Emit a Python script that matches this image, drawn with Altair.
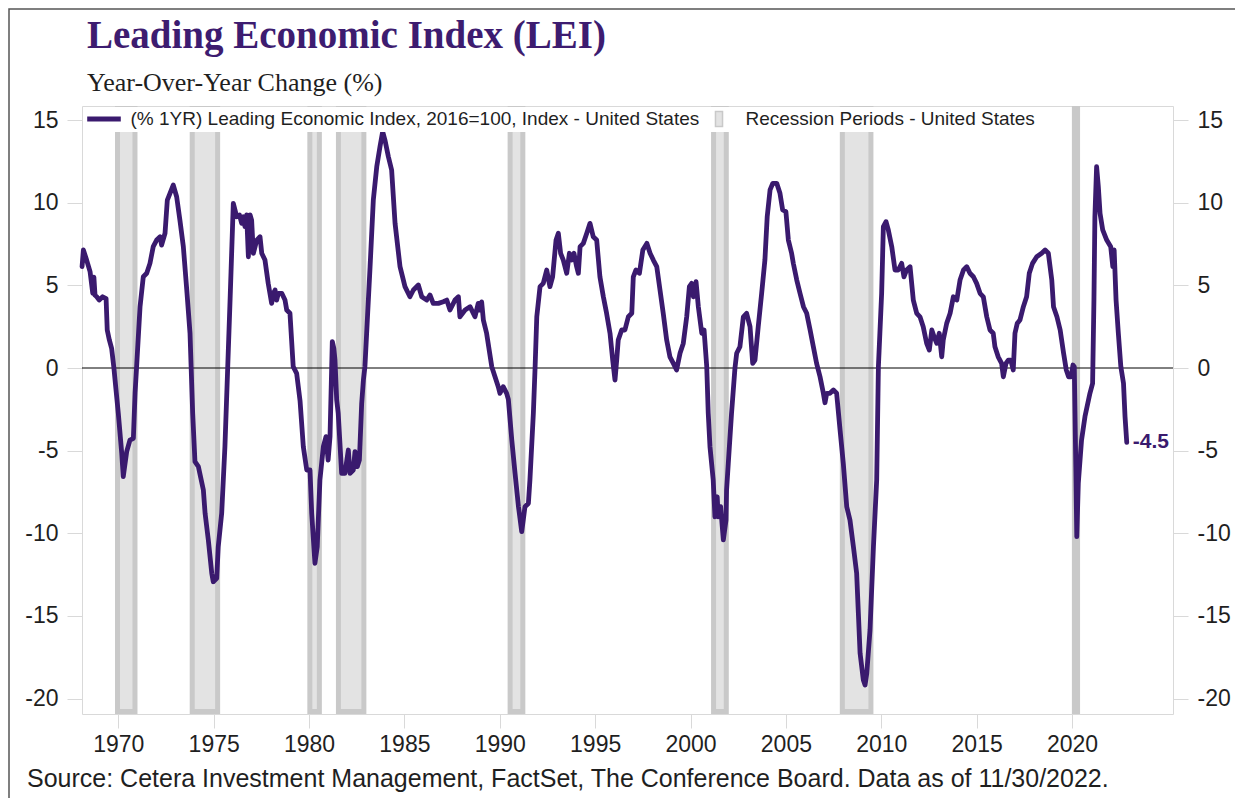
import altair as alt
import pandas as pd

TITLE = "Leading Economic Index (LEI)"
SUBTITLE = "Year-Over-Year Change (%)"
SOURCE = "Source: Cetera Investment Management, FactSet, The Conference Board. Data as of 11/30/2022."
SERIES_NAME = "(% 1YR) Leading Economic Index, 2016=100, Index - United States"
RECESSION_NAME = "Recession Periods - United States"

YEARS = [
    1968.10, 1968.17, 1968.34, 1968.52, 1968.66, 1968.72, 1968.78, 1968.87, 1969.00, 1969.18,
    1969.36, 1969.42, 1969.53, 1969.65, 1969.77, 1969.83, 1970.00, 1970.18, 1970.26, 1970.44,
    1970.61, 1970.79, 1970.88, 1970.96, 1971.14, 1971.31, 1971.49, 1971.66, 1971.83, 1972.01,
    1972.19, 1972.27, 1972.45, 1972.57, 1972.71, 1972.88, 1973.06, 1973.23, 1973.41, 1973.59,
    1973.76, 1973.82, 1973.90, 1974.02, 1974.20, 1974.46, 1974.55, 1974.72, 1974.90, 1974.98,
    1975.16, 1975.24, 1975.42, 1975.59, 1975.72, 1975.86, 1976.03, 1976.12, 1976.21, 1976.35,
    1976.47, 1976.56, 1976.64, 1976.73, 1976.82, 1976.91, 1976.99, 1977.08, 1977.26, 1977.43,
    1977.52, 1977.69, 1977.86, 1978.04, 1978.13, 1978.22, 1978.30, 1978.39, 1978.57, 1978.74,
    1978.83, 1979.00, 1979.17, 1979.35, 1979.53, 1979.70, 1979.88, 1980.05, 1980.14, 1980.31,
    1980.43, 1980.57, 1980.75, 1980.89, 1981.00, 1981.10, 1981.22, 1981.30, 1981.36, 1981.45,
    1981.53, 1981.71, 1981.88, 1982.06, 1982.15, 1982.32, 1982.41, 1982.53, 1982.64, 1982.76,
    1982.85, 1982.93, 1983.20, 1983.37, 1983.55, 1983.72, 1983.86, 1983.98, 1984.16, 1984.33,
    1984.51, 1984.77, 1985.03, 1985.29, 1985.47, 1985.73, 1985.91, 1986.17, 1986.34, 1986.51,
    1986.78, 1987.04, 1987.22, 1987.39, 1987.65, 1987.83, 1987.91, 1988.18, 1988.44, 1988.70,
    1988.87, 1988.96, 1989.05, 1989.14, 1989.31, 1989.58, 1989.75, 1989.92, 1990.01, 1990.18,
    1990.36, 1990.45, 1990.63, 1990.80, 1990.98, 1991.15, 1991.23, 1991.32, 1991.50, 1991.58,
    1991.76, 1991.85, 1991.94, 1992.11, 1992.28, 1992.46, 1992.63, 1992.77, 1992.95, 1993.07,
    1993.19, 1993.33, 1993.51, 1993.65, 1993.77, 1993.89, 1994.03, 1994.12, 1994.21, 1994.38,
    1994.56, 1994.73, 1994.90, 1995.08, 1995.25, 1995.43, 1995.60, 1995.78, 1995.92, 1996.04,
    1996.13, 1996.21, 1996.39, 1996.56, 1996.74, 1996.92, 1997.00, 1997.14, 1997.32, 1997.50,
    1997.71, 1997.88, 1998.05, 1998.23, 1998.40, 1998.57, 1998.75, 1998.92, 1999.10, 1999.27,
    1999.45, 1999.62, 1999.80, 1999.94, 2000.06, 2000.15, 2000.29, 2000.41, 2000.59, 2000.71,
    2000.85, 2000.93, 2001.02, 2001.19, 2001.28, 2001.40, 2001.45, 2001.58, 2001.72, 2001.86,
    2001.89, 2001.98, 2002.15, 2002.33, 2002.42, 2002.59, 2002.77, 2002.94, 2003.12, 2003.26,
    2003.38, 2003.55, 2003.73, 2003.90, 2004.02, 2004.17, 2004.31, 2004.52, 2004.69, 2004.83,
    2005.00, 2005.13, 2005.30, 2005.39, 2005.57, 2005.74, 2005.92, 2006.09, 2006.27, 2006.44,
    2006.61, 2006.79, 2006.96, 2007.05, 2007.14, 2007.31, 2007.49, 2007.66, 2007.84, 2008.01,
    2008.19, 2008.36, 2008.54, 2008.71, 2008.80, 2008.89, 2009.06, 2009.15, 2009.24, 2009.41,
    2009.59, 2009.76, 2009.85, 2010.02, 2010.11, 2010.25, 2010.37, 2010.55, 2010.72, 2010.89,
    2011.07, 2011.19, 2011.33, 2011.51, 2011.68, 2011.86, 2012.03, 2012.20, 2012.38, 2012.52,
    2012.65, 2012.77, 2012.91, 2013.04, 2013.17, 2013.25, 2013.43, 2013.61, 2013.78, 2013.96,
    2014.13, 2014.31, 2014.48, 2014.65, 2014.83, 2015.00, 2015.18, 2015.35, 2015.53, 2015.70,
    2015.87, 2015.96, 2016.13, 2016.31, 2016.40, 2016.54, 2016.66, 2016.79, 2016.92, 2017.01,
    2017.13, 2017.27, 2017.45, 2017.62, 2017.76, 2017.93, 2018.15, 2018.41, 2018.59, 2018.76,
    2018.94, 2019.03, 2019.21, 2019.38, 2019.56, 2019.70, 2019.82, 2019.95, 2020.05, 2020.12,
    2020.20, 2020.25, 2020.33, 2020.50, 2020.68, 2020.94, 2021.08, 2021.15, 2021.20, 2021.29,
    2021.38, 2021.47, 2021.61, 2021.82, 2022.03, 2022.14, 2022.21, 2022.31, 2022.43, 2022.56,
    2022.70, 2022.78, 2022.87,
]

LEI = [
    6.13, 7.14, 6.53, 5.83, 4.52, 5.50, 4.40, 4.31, 4.11, 4.31,
    4.20, 2.30, 1.70, 1.19, 0.00, -0.73, -2.74, -5.16, -6.57, -5.06,
    -4.36, -4.25, -1.50, 0.08, 3.71, 5.52, 5.73, 6.33, 7.34, 7.74,
    7.94, 7.44, 8.15, 10.16, 10.57, 11.07, 10.36, 8.95, 7.34, 4.72,
    2.10, 0.00, -2.74, -5.67, -5.97, -7.38, -8.79, -10.40, -12.42, -12.93,
    -12.72, -10.81, -8.79, -4.76, -0.50, 4.11, 9.96, 9.56, 9.15, 9.26,
    8.75, 9.15, 8.55, 9.26, 6.73, 9.26, 8.95, 6.94, 7.74, 7.94,
    6.94, 6.53, 5.12, 3.91, 4.52, 4.72, 4.11, 4.52, 4.52, 4.11,
    3.51, 3.31, 0.08, -0.32, -2.00, -4.76, -6.17, -6.17, -8.79, -11.81,
    -10.81, -6.78, -4.76, -4.15, -5.57, -4.15, 1.60, 1.20, 0.48, -1.94,
    -2.74, -6.37, -6.37, -4.96, -6.37, -6.17, -5.06, -5.97, -5.57, -2.14,
    -0.73, 0.08, 6.13, 10.16, 12.18, 13.39, 14.30, 13.79, 12.78, 11.98,
    8.75, 6.13, 4.92, 4.31, 4.72, 5.02, 4.31, 4.11, 4.42, 3.91,
    3.91, 4.01, 4.11, 3.51, 4.11, 4.31, 3.10, 3.51, 3.71, 3.10,
    3.91, 3.50, 4.00, 2.90, 2.10, 0.08, -0.53, -1.13, -1.53, -1.13,
    -1.53, -1.90, -4.36, -6.37, -8.39, -9.90, -9.20, -8.39, -8.19, -6.78,
    -2.74, 0.00, 3.10, 4.92, 5.12, 5.93, 4.92, 5.52, 7.74, 8.15,
    6.94, 6.53, 5.73, 6.94, 6.53, 6.94, 6.13, 5.73, 7.34, 7.54,
    8.15, 8.75, 7.94, 7.74, 5.52, 4.31, 3.31, 2.10, 0.48, -0.73,
    0.48, 1.69, 2.30, 2.30, 3.10, 3.31, 5.52, 5.93, 5.73, 7.14,
    7.54, 6.94, 6.53, 6.13, 4.72, 3.31, 1.69, 0.68, 0.28, -0.12,
    0.89, 1.49, 3.10, 4.92, 5.12, 4.31, 5.22, 3.71, 2.10, 2.30,
    0.08, -2.74, -4.76, -6.78, -9.00, -7.79, -9.00, -8.39, -10.40, -9.20,
    -7.38, -5.77, -2.74, 0.00, 0.89, 1.29, 3.10, 3.31, 2.50, 0.28,
    0.48, 2.50, 4.52, 6.53, 9.15, 10.77, 11.17, 11.17, 10.57, 9.56,
    9.46, 7.74, 6.94, 6.33, 5.32, 4.52, 3.71, 3.31, 2.30, 1.29,
    0.28, -0.53, -1.50, -2.10, -1.53, -1.53, -1.33, -1.53, -3.75, -5.77,
    -8.39, -9.20, -10.81, -12.42, -14.84, -17.26, -18.87, -19.18, -18.47, -15.85,
    -10.81, -6.78, 0.08, 4.52, 8.55, 8.85, 8.35, 7.34, 5.93, 5.93,
    6.33, 5.52, 5.93, 6.13, 4.11, 3.31, 3.10, 2.50, 1.49, 1.09,
    2.30, 1.89, 1.49, 2.10, 0.68, 1.69, 2.70, 3.31, 4.31, 4.11,
    5.32, 5.93, 6.13, 5.73, 5.52, 5.12, 4.52, 4.31, 3.10, 2.30,
    2.10, 1.29, 0.68, 0.28, -0.53, 0.28, 0.48, 0.48, -0.12, 2.10,
    2.70, 2.90, 3.71, 4.31, 5.73, 6.33, 6.73, 6.94, 7.14, 6.94,
    5.32, 3.71, 3.10, 2.30, 0.89, -0.12, -0.53, -0.53, 0.18, 0.08,
    -6.00, -10.20, -6.98, -4.36, -2.94, -1.53, -0.93, 4.11, 9.15, 12.18,
    10.97, 9.36, 8.35, 7.74, 7.34, 6.13, 7.14, 4.11, 2.10, 0.08,
    -0.93, -2.94, -4.50,
]

REC_START = ["1969-12", "1973-11", "1980-01", "1981-07", "1990-07", "2001-03", "2007-12", "2020-02"]
REC_END = ["1970-11", "1975-03", "1980-07", "1982-11", "1991-03", "2001-11", "2009-06", "2020-04"]

X_TICKS = [1970, 1975, 1980, 1985, 1990, 1995, 2000, 2005, 2010, 2015, 2020]
Y_TICKS = [-20, -15, -10, -5, 0, 5, 10, 15]
X_DOMAIN = [1968.097, 2025.295]
Y_DOMAIN = [-20.93, 15.85]

PURPLE = "#3a1a6e"
TITLE_PURPLE = "#3d1c70"
TEXT = "#1f1f1f"
GRID = "#d9d9d9"
SANS = "Liberation Sans"
SERIF = "Liberation Serif"

W, H = 1091, 608


def month_to_year(s):
    y, m = s.split("-")
    return int(y) + (int(m) - 0.5) / 12.0


lei_df = pd.DataFrame({"year": YEARS, "lei": LEI, "series": SERIES_NAME})
rec_df = pd.DataFrame({
    "start": [month_to_year(s) for s in REC_START],
    "end": [month_to_year(s) for s in REC_END],
    "kind": RECESSION_NAME,
})
last_df = lei_df.tail(1).assign(label=lambda d: d["lei"].map(lambda v: f"{v:.1f}"))
one = pd.DataFrame({"k": [0]})

xscale = alt.Scale(domain=X_DOMAIN, nice=False, zero=False)
yscale = alt.Scale(domain=Y_DOMAIN, nice=False, zero=False)

xaxis = alt.Axis(values=X_TICKS, format="d", title=None, grid=False, domain=False,
                 tickSize=14, tickColor=GRID, labelPadding=5, labelFont=SANS,
                 labelFontSize=23, labelColor=TEXT)


def yaxis(orient):
    return alt.Axis(orient=orient, values=Y_TICKS, title=None, grid=False,
                    labelExpr="'' + datum.value",
                    domain=False, tickSize=15, tickColor=GRID, labelPadding=9,
                    labelFont=SANS, labelFontSize=23, labelColor=TEXT)


X = alt.X("year:Q", scale=xscale, axis=xaxis)

bars = alt.Chart(rec_df).mark_rect(stroke="#c9c9c9", strokeWidth=5).encode(
    x=alt.X("start:Q", scale=xscale, axis=xaxis),
    x2="end:Q",
    y=alt.value(2.5),
    y2=alt.value(H - 2.5),
    fill=alt.Fill("kind:N", scale=alt.Scale(range=["#e3e3e3"]),
                  legend=alt.Legend(title=None, orient="none", legendX=625, legendY=1,
                                    fillColor="white", padding=2.5,
                                    symbolType="M-0.47,-1L0.47,-1L0.47,1L-0.47,1Z",
                                    symbolSize=225, symbolStrokeColor="#c9c9c9",
                                    symbolStrokeWidth=1.5, labelOffset=17,
                                    labelFont=SANS, labelFontSize=19, labelColor=TEXT,
                                    labelLimit=900)),
)

zero = alt.Chart(one).mark_rule(color="black", strokeWidth=1).encode(
    y=alt.Y("z:Q", scale=yscale, axis=yaxis("right")),
).transform_calculate(z="0")

line = alt.Chart(lei_df).mark_line(strokeWidth=4.8, strokeJoin="round", strokeCap="round").encode(
    x=X,
    y=alt.Y("lei:Q", scale=yscale, axis=yaxis("left")),
    color=alt.Color("series:N", scale=alt.Scale(range=[PURPLE]),
                    legend=alt.Legend(title=None, orient="none", legendX=10, legendY=1,
                                      fillColor="white", padding=2.5,
                                      symbolType="M-2.4,0L2.4,0", symbolSize=196,
                                      symbolStrokeWidth=5, labelOffset=17,
                                      labelFont=SANS, labelFontSize=19, labelColor=TEXT,
                                      labelLimit=900)),
)

end_label = alt.Chart(last_df).mark_text(
    align="left", baseline="middle", dx=6, font=SANS, fontSize=21, fontWeight="bold", color=PURPLE
).encode(
    x=X,
    y=alt.Y("lei:Q", scale=yscale, axis=None),
    text="label:N",
)

title = alt.Chart(one).mark_text(
    align="left", baseline="alphabetic", font=SERIF, fontSize=39, fontWeight="bold", color=TITLE_PURPLE
).encode(x=alt.value(5), y=alt.value(-58), text=alt.value(TITLE))

subtitle = alt.Chart(one).mark_text(
    align="left", baseline="alphabetic", font=SERIF, fontSize=26, color=TEXT
).encode(x=alt.value(5), y=alt.value(-15), text=alt.value(SUBTITLE))

source = alt.Chart(one).mark_text(
    align="left", baseline="alphabetic", font=SANS, fontSize=25, color=TEXT
).encode(x=alt.value(-55), y=alt.value(H + 73), text=alt.value(SOURCE))

frame = alt.Chart(one).mark_rect(filled=False, stroke="#555555", strokeWidth=1.5).encode(
    x=alt.value(-73), x2=alt.value(W + 200), y=alt.value(-97), y2=alt.value(H + 200)
)

chart = alt.layer(
    frame, bars, zero, line, end_label, title, subtitle, source
).resolve_scale(
    y="independent", color="independent", fill="independent"
).properties(
    width=W, height=H,
    padding={"left": 74, "top": 98, "right": 62, "bottom": 84},
    autosize=alt.AutoSizeParams(type="none"),
    background="white",
).configure_view(stroke=GRID, strokeWidth=1)

chart.save("out.html", embed_options={"renderer": "svg", "actions": False})
